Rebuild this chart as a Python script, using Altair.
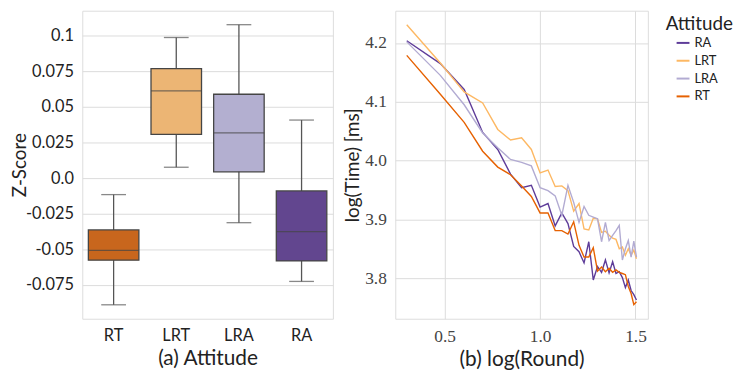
import altair as alt
import numpy as np
import pandas as pd

# ---------------- Box plot data (panel a) ----------------
box_attitudes = ["RT", "LRT", "LRA", "RA"]
whisker_low = [-0.0889, 0.0076, -0.0313, -0.0725]
q1 = [-0.0576, 0.0306, 0.0044, -0.0581]
median = [-0.0507, 0.0611, 0.0317, -0.0375]
q3 = [-0.0364, 0.0768, 0.0588, -0.0090]
whisker_high = [-0.0116, 0.0986, 0.1076, 0.0407]
box_colors = ["#c8661d", "#ecb574", "#b3afd0", "#62468f"]
z_ticks = [-0.075, -0.05, -0.025, 0.0, 0.025, 0.05, 0.075, 0.1]

# ---------------- Line data (panel b) ----------------
rounds = [2, 3, 4, 5, 6, 7, 8, 9, 10, 11, 12, 13, 14, 15, 16, 17, 18, 19, 20,
          21, 22, 23, 24, 25, 26, 27, 28, 29, 30, 31, 32]
ra = [4.204, 4.165, 4.121, 4.048, 4.019, 3.977, 3.954, 3.958, 3.921, 3.927,
      3.889, 3.911, 3.893, 3.854, 3.845, 3.826, 3.862, 3.797, 3.820, 3.810,
      3.831, 3.809, 3.828, 3.808, 3.811, 3.801, 3.784, 3.797, 3.779, 3.772, 3.763]
lrt = [4.231, 4.166, 4.117, 4.098, 4.053, 4.035, 4.039, 4.019, 3.979, 3.984,
       3.956, 3.957, 3.949, 3.914, 3.927, 3.884, 3.882, 3.902, 3.901, 3.878,
       3.880, 3.873, 3.868, 3.866, 3.850, 3.853, 3.839, 3.850, 3.839, 3.848, 3.833]
lra = [4.202, 4.145, 4.095, 4.047, 4.022, 4.002, 3.997, 3.991, 3.954, 3.949,
       3.940, 3.907, 3.958, 3.929, 3.895, 3.922, 3.907, 3.904, 3.901, 3.862,
       3.895, 3.864, 3.873, 3.881, 3.890, 3.831, 3.850, 3.864, 3.836, 3.863, 3.836]
rt = [4.179, 4.113, 4.065, 4.016, 3.989, 3.976, 3.957, 3.939, 3.911, 3.911,
      3.881, 3.881, 3.875, 3.896, 3.856, 3.836, 3.836, 3.852, 3.812, 3.819,
      3.811, 3.817, 3.810, 3.814, 3.810, 3.808, 3.806, 3.786, 3.774, 3.755, 3.760]
legend_order = ["RA", "LRT", "LRA", "RT"]
line_colors = ["#5e3c99", "#fdb863", "#b2abd2", "#e66101"]

SANS = "Lato"
SERIF = "Liberation Serif"
GRID = "#dcdcdc"

box_df = pd.DataFrame({
    "Group": box_attitudes, "low": whisker_low, "q1": q1,
    "median": median, "q3": q3, "high": whisker_high,
})

xenc = alt.X("Group:N", sort=box_attitudes,
             scale=alt.Scale(paddingInner=0, paddingOuter=0),
             axis=alt.Axis(title="(a) Attitude", titleFont=SANS, titleFontSize=21,
                           titleFontWeight="normal", titleColor="#222",
                           labelFont=SANS, labelFontSize=16.5, labelColor="#222",
                           labelAngle=0, labelPadding=9, ticks=False, tickSize=0,
                           domain=False, grid=False, titlePadding=4))
yscale = alt.Scale(domain=[-0.0987, 0.1174], nice=False, zero=False)
yaxis = alt.Axis(title="Z-Score", titleFont=SANS, titleFontSize=19,
                 titleFontWeight="normal", titleColor="#222",
                 labelFont=SANS, labelFontSize=16.5, labelColor="#222",
                 values=z_ticks, ticks=False, tickSize=0, domain=False, grid=True,
                 gridColor=GRID, gridWidth=1, labelPadding=9, titlePadding=-4,
                 labelExpr="datum.value == 0 ? '0.0' : replace(format(datum.value, '~g'), '\u2212', '-')")
color_box = alt.Color("Group:N", scale=alt.Scale(domain=box_attitudes, range=box_colors),
                      legend=None)

base = alt.Chart(box_df)
whisk = base.mark_rule(color="#555555", strokeWidth=1.3).encode(
    x=xenc, y=alt.Y("low:Q", scale=yscale, axis=yaxis), y2="high:Q")
caps_lo = base.mark_tick(color="#555555", size=25, thickness=1.3, orient="horizontal").encode(
    x=xenc, y=alt.Y("low:Q", scale=yscale))
caps_hi = base.mark_tick(color="#555555", size=25, thickness=1.3, orient="horizontal").encode(
    x=xenc, y=alt.Y("high:Q", scale=yscale))
boxes = base.mark_bar(size=51, stroke="#454545", strokeWidth=1.3).encode(
    x=xenc, y=alt.Y("q1:Q", scale=yscale), y2="q3:Q", color=color_box)
meds = base.mark_tick(color="#454545", size=51, thickness=1.3, orient="horizontal").encode(
    x=xenc, y=alt.Y("median:Q", scale=yscale))

left = alt.layer(whisk, caps_lo, caps_hi, boxes, meds).properties(width=253, height=311)

# ---------------- Line chart ----------------
rows = []
for name, vals in [("RA", ra), ("LRT", lrt), ("LRA", lra), ("RT", rt)]:
    for r, v in zip(rounds, vals):
        rows.append({"Attitude": name, "round": r, "logtime": v})
line_df = pd.DataFrame(rows)
line_df["loground"] = np.log10(line_df["round"])

right = alt.Chart(line_df).mark_line(strokeWidth=1.4).encode(
    x=alt.X("loground:Q", scale=alt.Scale(domain=[0.241, 1.565], nice=False, zero=False),
            axis=alt.Axis(title="(b) log(Round)", titleFont=SANS, titleFontSize=21,
                          titleFontWeight="normal", titleColor="#222",
                          labelFont=SERIF, labelFontSize=17.5, labelColor="#444",
                          values=[0.5, 1.0, 1.5], format=".1f", ticks=False, tickSize=0,
                          domain=False, grid=True, gridColor=GRID, labelPadding=9,
                          titlePadding=4)),
    y=alt.Y("logtime:Q", scale=alt.Scale(domain=[3.731, 4.255], nice=False, zero=False),
            axis=alt.Axis(title="log(Time) [ms]", titleFont=SANS, titleFontSize=19,
                          titleFontWeight="normal", titleColor="#222",
                          labelFont=SERIF, labelFontSize=17.5, labelColor="#444",
                          values=[3.8, 3.9, 4.0, 4.1, 4.2], format=".1f", ticks=False,
                          tickSize=0, domain=False, grid=True, gridColor=GRID,
                          labelPadding=9, titlePadding=2)),
    color=alt.Color("Attitude:N", scale=alt.Scale(domain=legend_order, range=line_colors),
                    legend=alt.Legend(title="Attitude", titleFont=SANS, titleFontSize=19,
                                      titleFontWeight="normal", titleColor="#222",
                                      labelFont=SANS, labelFontSize=13, labelColor="#222",
                                      symbolType="stroke", symbolSize=169,
                                      symbolStrokeWidth=2, symbolOffset=10,
                                      rowPadding=3, offset=14, padding=4,
                                      titlePadding=2)),
    detail="Attitude:N",
    order="round:Q",
).properties(width=255, height=311)

chart = alt.hconcat(left, right, spacing=9).resolve_scale(
    color="independent"
).resolve_legend(color="independent").properties(
    padding={"left": 2, "top": 0, "right": 0, "bottom": 0}
).configure_view(stroke="#d0d0d0", strokeWidth=1.2).configure(background="white")

chart.save("out.html", embed_options={"renderer": "svg", "actions": False})
